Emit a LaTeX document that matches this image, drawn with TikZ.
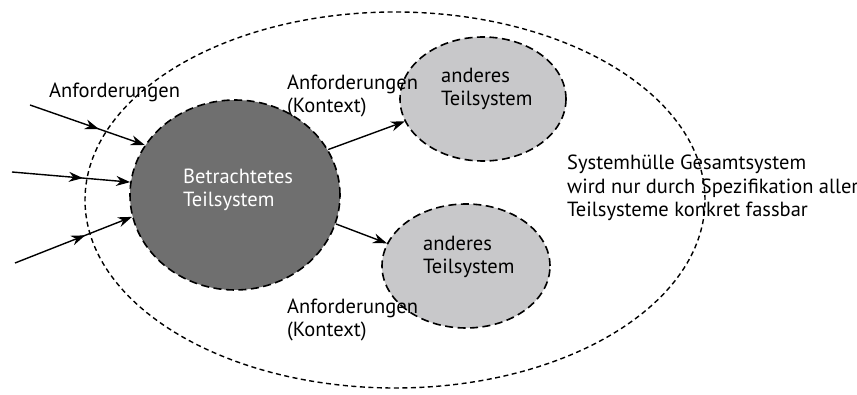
\documentclass[tikz,border=0pt]{standalone}
\usepackage{fontspec}
\setmainfont{PT Sans}
\usetikzlibrary{shapes.geometric,arrows.meta,decorations.markings}
\definecolor{darkfill}{HTML}{6F6F6F}
\definecolor{lightfill}{HTML}{C8C8CA}
\tikzset{
  lbl/.style={font=\fontsize{20.5}{23.5}\selectfont, align=left, anchor=west, inner sep=0pt},
  sub/.style={ellipse, draw=black, line width=1.6pt, dash pattern=on 8pt off 4.5pt, fill=lightfill, inner sep=0pt},
  mainsys/.style={ellipse, draw=black, line width=1.6pt, dash pattern=on 8pt off 4.5pt, fill=darkfill, inner sep=0pt},
  hull/.style={ellipse, draw=black, line width=1.4pt, dash pattern=on 5pt off 3.5pt, inner sep=0pt},
  arr/.style={line width=1.4pt, -{Stealth[length=14pt,width=10pt]}},
  midarr/.style={arr, postaction={decorate}, decoration={markings, mark=at position 0.6 with {\arrow{Stealth[length=14pt,width=10pt]}}}}
}
\begin{document}
\begin{tikzpicture}[x=1pt,y=-1pt]
\useasboundingbox (0,0) rectangle (857,395);
% outer hull
\node[hull, minimum width=620pt, minimum height=376pt] (hull) at (395,200) {};
% subsystems
\node[mainsys, minimum width=210pt, minimum height=190pt] (main) at (235,195) {};
\node[sub, minimum width=166pt, minimum height=124pt] (top) at (483,99) {};
\node[sub, minimum width=168pt, minimum height=124pt] (bot) at (466,266) {};
% texts
\node[lbl, text=white] (maintxt) at (183,190) {Betrachtetes\\Teilsystem};
\node[lbl] (toptxt) at (441,89) {anderes\\Teilsystem};
\node[lbl] (bottxt) at (423,257) {anderes\\Teilsystem};
\node[lbl] (anf) at (49,92) {Anforderungen};
\node[lbl] (ktop) at (287,96) {Anforderungen\\(Kontext)};
\node[lbl] (kbot) at (287,320) {Anforderungen\\(Kontext)};
\node[lbl] (hulltxt) at (567,188) {Systemhülle Gesamtsystem\\wird nur durch Spezifikation aller\\Teilsysteme konkret fassbar};
% input arrows
\coordinate (in1) at (30,105);
\coordinate (in2) at (12,172);
\coordinate (in3) at (15,263);
\draw[midarr] (in1) -- (main.151);
\draw[midarr] (in2) -- (main.173);
\draw[midarr] (in3) -- (main.192);
% output arrows
\draw[arr] (main.26) -- (top.196);
\draw[arr] (main.-16) -- (bot.164);
\end{tikzpicture}
\end{document}
